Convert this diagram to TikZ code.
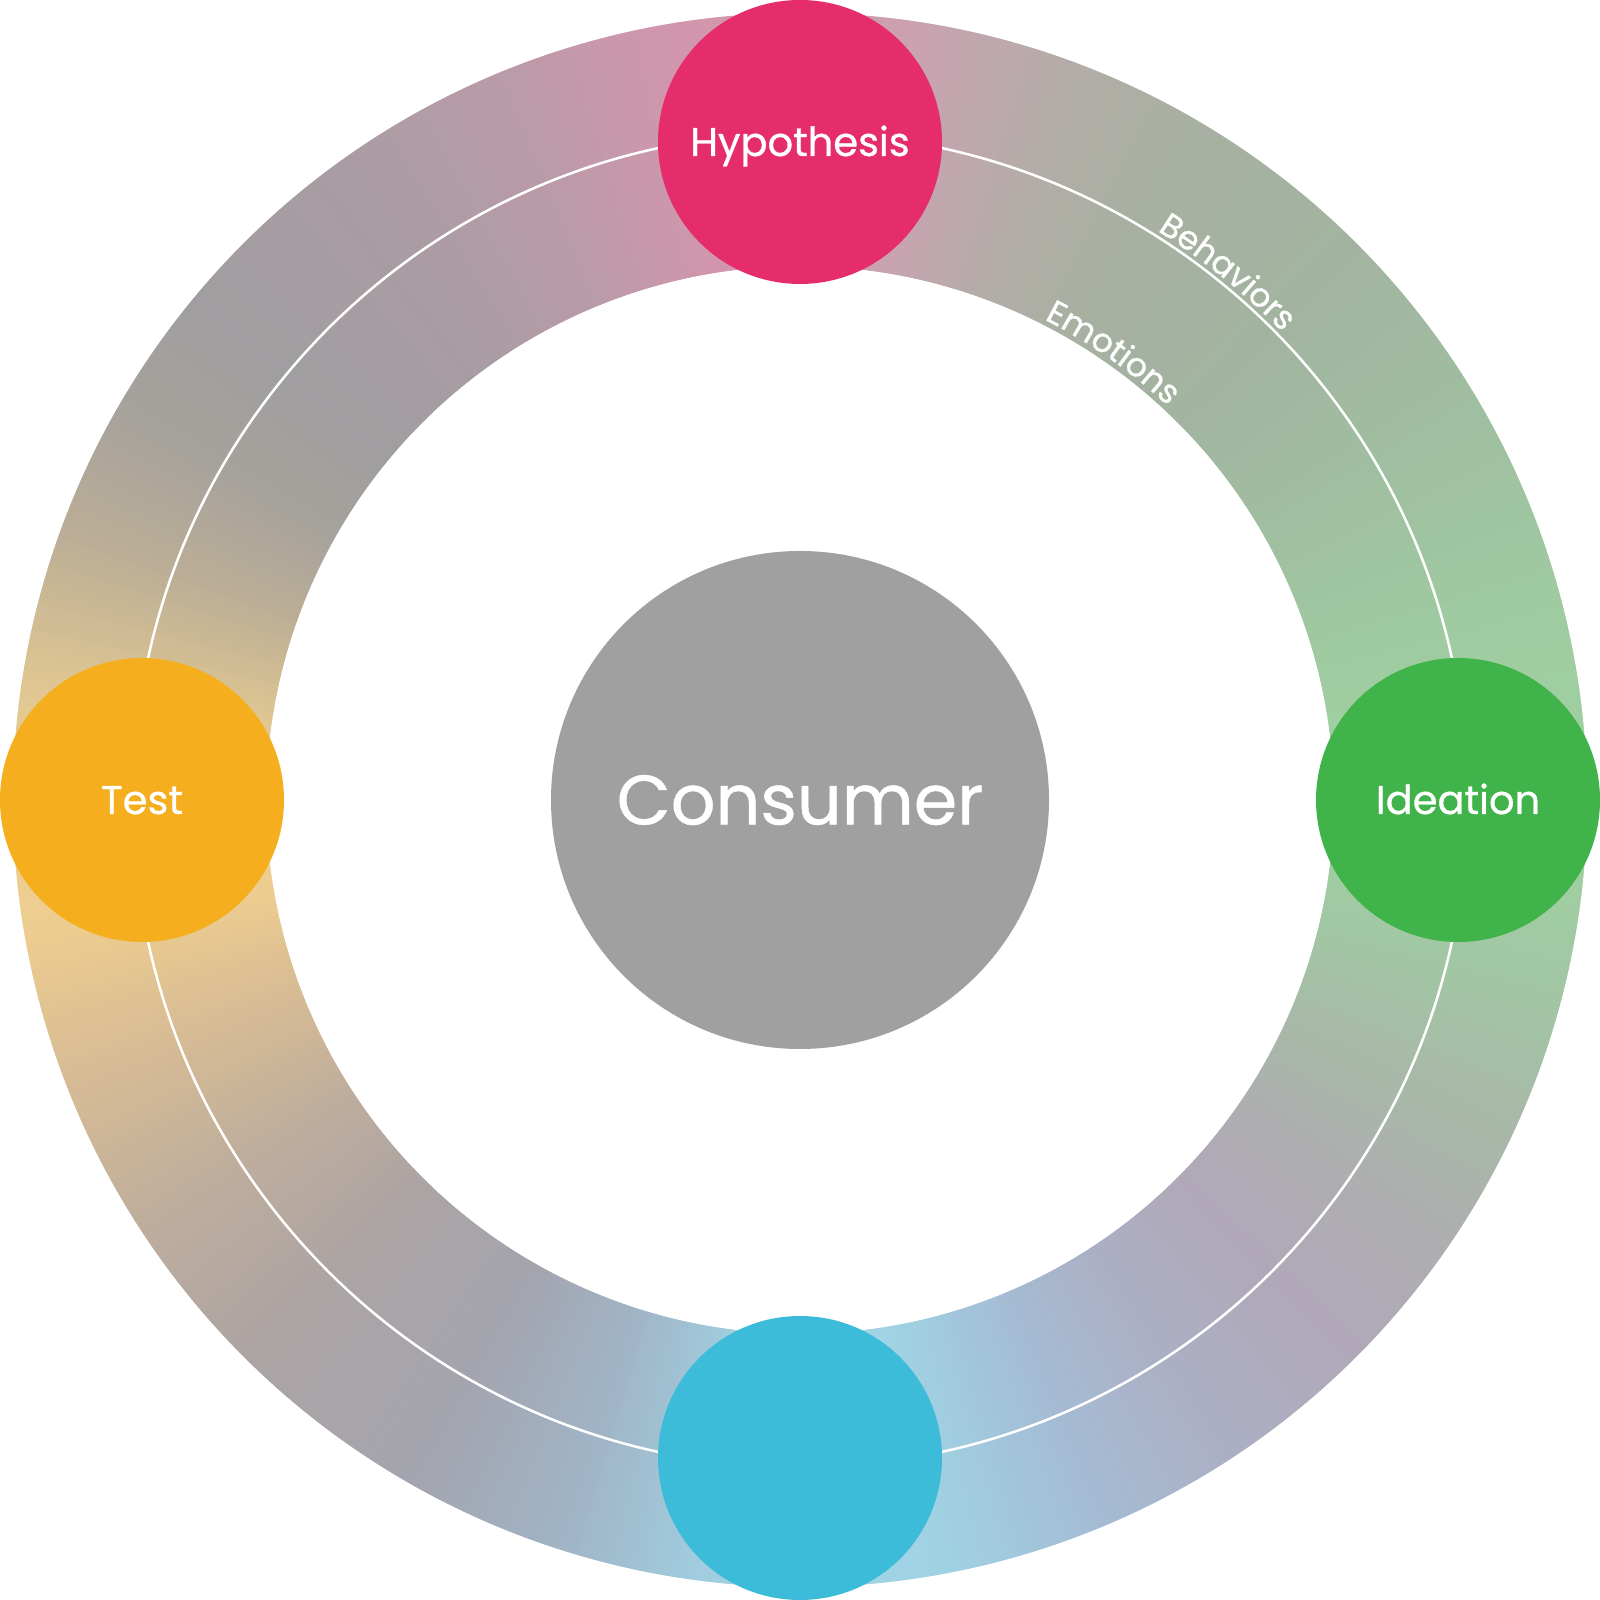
\documentclass[tikz,border=0pt]{standalone}
\usepackage{fontspec}
\setmainfont{Poppins}[FakeBold=0.7]
\usetikzlibrary{decorations.text}
\definecolor{hypc}{HTML}{E52D6C}
\definecolor{testc}{HTML}{F5AE1E}
\definecolor{ideac}{HTML}{40B34A}
\definecolor{protc}{HTML}{3DBCDA}
\definecolor{consc}{HTML}{A0A0A0}
\tikzset{
  stage/.style={circle, minimum size=284pt, inner sep=0pt, text=white,
    font=\fontsize{40}{40}\selectfont, text height=28pt, text depth=0pt},
  core/.style={circle, minimum size=498pt, inner sep=0pt, fill=consc, text=white,
    font=\fontsize{70}{70}\selectfont, text height=49pt, text depth=0pt},
}
\begin{document}
\begin{tikzpicture}[x=1pt,y=1pt]
\useasboundingbox (0,0) rectangle (1600,1600);
\begin{scope}[shift={(800,800)}]
\foreach \aa/\ca/\ab/\cb in {
  0/9FD3A0/15/9FCAA0, 15/9FCAA0/30/A0BEA0, 30/A0BEA0/45/A2B4A0,
  45/A2B4A0/60/A8B0A2, 60/A8B0A2/70/B4ACA8, 70/B4ACA8/80/C8A4B0,
  80/C8A4B0/90/D596AE, 90/D596AE/100/D096AD, 100/D096AD/112/BA9BA8,
  112/BA9BA8/125/AA9CA4, 125/AA9CA4/140/A09EA0, 140/A09EA0/150/A6A29C,
  150/A6A29C/160/BCAE96, 160/BCAE96/170/DCC492, 170/DCC492/180/F0D090,
  180/F0D090/190/ECCC90, 190/ECCC90/200/D8BC94, 200/D8BC94/212/C0AE9C,
  212/C0AE9C/225/ACA4A4, 225/ACA4A4/240/A4A4AE, 240/A4A4AE/252/A0B4C6,
  252/A0B4C6/262/A0CCDE, 262/A0CCDE/270/A0D8E8, 270/A0D8E8/280/A0D2E4,
  280/A0D2E4/292/A4BCD4, 292/A4BCD4/303/ACAFC4, 303/ACAFC4/315/B0A8B8,
  315/B0A8B8/325/AEAEB0, 325/AEAEB0/335/A8B8A8, 335/A8B8A8/345/A2C6A4,
  345/A2C6A4/360/9FD3A0} {
  \definecolor{cA}{HTML}{\ca}
  \definecolor{cB}{HTML}{\cb}
  \pgfmathtruncatemacro\last{2*(\ab-\aa)-1}
  \foreach \i in {0,...,\last} {
    \pgfmathsetmacro\t{\aa+\i/2}
    \pgfmathsetmacro\p{100*\i/(2*(\ab-\aa))}
    \pgfmathsetmacro\te{\t+1.0}
    \fill[cB!\p!cA] (\t:787) arc[start angle=\t, end angle=\te, radius=787]
      -- (\te:534) arc[start angle=\te, end angle=\t, radius=534] -- cycle;
  }
}
\draw[white, line width=2.5pt] (0,0) circle[radius=667];
\path[decorate, decoration={text along path, text align=center,
  text={|\fontsize{33}{33}\selectfont\color{white}|Behaviors}}]
  (64:672) arc[start angle=64, end angle=38, radius=672];
\path[decorate, decoration={text along path, text align=center,
  text={|\fontsize{33}{33}\selectfont\color{white}|Emotions}}]
  (68:539) arc[start angle=68, end angle=42, radius=539];
\end{scope}
\node[core] (consumer) at (800,800) {Consumer};
\node[stage, fill=hypc] (hyp) at (800,1458) {Hypothesis};
\node[stage, fill=testc] (test) at (142,800) {Test};
\node[stage, fill=ideac] (idea) at (1458,800) {Ideation};
\node[stage, fill=protc] (proto) at (800,142) {};
\end{tikzpicture}
\end{document}
